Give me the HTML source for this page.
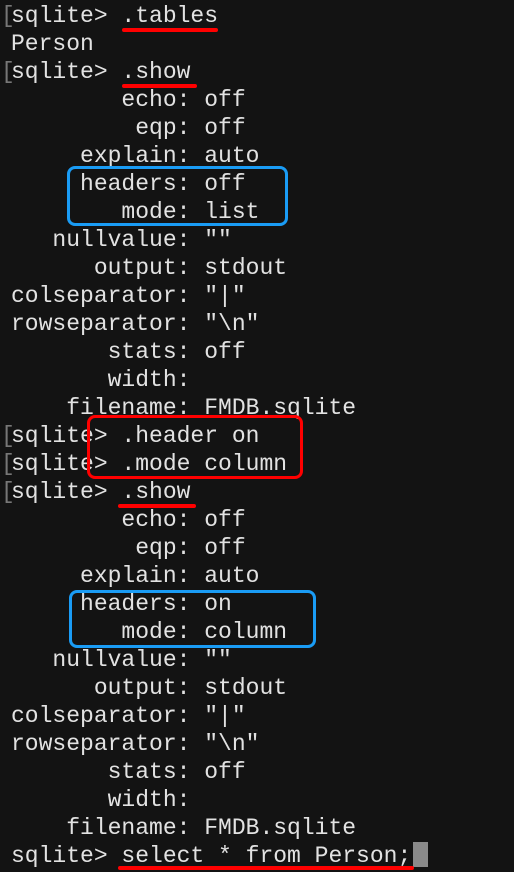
<!DOCTYPE html>
<html><head><meta charset="utf-8"><style>
html,body{margin:0;padding:0;background:#131313;}
body{width:514px;height:872px;overflow:hidden;position:relative;}
pre{margin:0;position:absolute;left:11px;top:2px;font-family:"Liberation Mono",monospace;font-size:23px;line-height:28px;color:#e2e2e2;white-space:pre;}
.b{position:absolute;left:1px;font-family:"Liberation Mono",monospace;font-size:23px;line-height:28px;color:#777;}
.u{position:absolute;height:4px;background:#f00;border-radius:2px;}
.box{position:absolute;border:3px solid #f00;border-radius:8px;box-sizing:border-box;}
.bl{border-color:#1a9cf5;}
.cur{position:absolute;left:413px;top:842px;width:15px;height:25px;background:#8a8a8a;}
</style></head><body>
<div class="b" style="top:2px">[</div>
<div class="b" style="top:58px">[</div>
<div class="b" style="top:422px">[</div>
<div class="b" style="top:450px">[</div>
<div class="b" style="top:478px">[</div>
<pre>sqlite> .tables
Person
sqlite> .show
        echo: off
         eqp: off
     explain: auto
     headers: off
        mode: list
   nullvalue: ""
      output: stdout
colseparator: "|"
rowseparator: "\n"
       stats: off
       width: 
    filename: FMDB.sqlite
sqlite> .header on
sqlite> .mode column
sqlite> .show
        echo: off
         eqp: off
     explain: auto
     headers: on
        mode: column
   nullvalue: ""
      output: stdout
colseparator: "|"
rowseparator: "\n"
       stats: off
       width: 
    filename: FMDB.sqlite
sqlite> select * from Person;</pre>
<div class="cur"></div>
<div class="u" style="left:122px;top:28px;width:96px"></div>
<div class="u" style="left:122px;top:84px;width:75px"></div>
<div class="u" style="left:118px;top:504px;width:78px"></div>
<div class="u" style="left:118px;top:866px;width:296px"></div>
<div class="box" style="left:87px;top:415px;width:216px;height:64px"></div>
<div class="box bl" style="left:67px;top:166px;width:221px;height:60px"></div>
<div class="box bl" style="left:69px;top:590px;width:247px;height:58px"></div>
</body></html>
